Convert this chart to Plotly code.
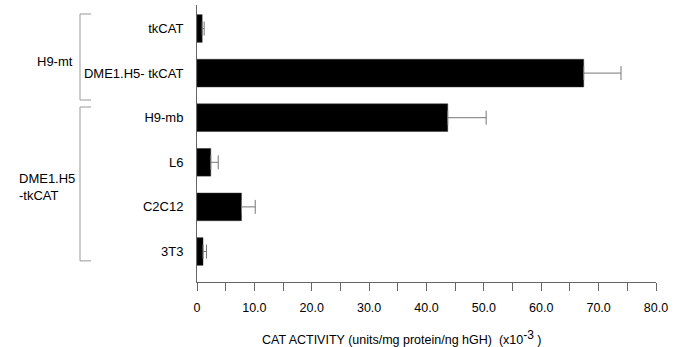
import plotly.graph_objects as go

categories = ["tkCAT", "DME1.H5- tkCAT", "H9-mb", "L6", "C2C12", "3T3"]
values = [0.9, 67.4, 43.7, 2.4, 7.75, 1.05]
errors = [0.35, 6.5, 6.7, 1.3, 2.4, 0.6]
x_tickvals = [0, 10, 20, 30, 40, 50, 60, 70, 80]
x_ticktext = ["0", "10.0", "20.0", "30.0", "40.0", "50.0", "60.0", "70.0", "80.0"]

W, H = 684, 347
L, R, T, B = 197, 28, 5, 65
pw = W - L - R

def px(x):
    return (x - L) / pw

fig = go.Figure()
fig.add_trace(go.Bar(
    y=categories, x=values, orientation="h", width=0.62,
    marker=dict(color="black", line=dict(color="#333", width=0.5)),
    error_x=dict(type="data", array=errors, arrayminus=[0] * len(errors),
                 symmetric=False, color="#777", thickness=1, width=7),
    showlegend=False,
))

font = "Liberation Sans, Arial, sans-serif"

fig.update_layout(
    width=W, height=H,
    margin=dict(l=L, r=R, t=T, b=B),
    plot_bgcolor="white", paper_bgcolor="white",
    font=dict(family=font, size=13, color="black"),
    xaxis=dict(
        range=[0, 80], tickvals=x_tickvals, ticktext=x_ticktext,
        ticks="outside", ticklen=8, tickcolor="#666", tickwidth=1,
        minor=dict(dtick=5, ticks="outside", ticklen=8, tickcolor="#666", tickwidth=1),
        showline=True, linecolor="#666", linewidth=1,
        showgrid=False, zeroline=False,
        tickfont=dict(size=12.5), ticklabelstandoff=6,
    ),
    yaxis=dict(
        type="category", categoryorder="array", categoryarray=categories,
        range=[5.684, -0.527],
        showline=True, linecolor="#666", linewidth=1,
        ticks="", showgrid=False, zeroline=False,
        tickfont=dict(size=13), ticklabelstandoff=10,
    ),
)

# axis title placed left of centre, as in the reference
fig.add_annotation(
    x=px(402), y=-0.2, xref="paper", yref="paper", yanchor="middle",
    xanchor="center", showarrow=False, font=dict(size=12.5),
    text="CAT ACTIVITY (units/mg protein/ng hGH)  (x10<sup><span style='font-size:12px'>-3</span></sup> )",
)

# group brackets
bracket_color = "#999"
for top, bot in [(-0.325, 1.603), (1.76, 5.21)]:
    fig.add_shape(type="line", xref="paper", yref="y", x0=px(80), x1=px(80),
                  y0=top, y1=bot, line=dict(color=bracket_color, width=1))
    for yy in (top, bot):
        fig.add_shape(type="line", xref="paper", yref="y", x0=px(80), x1=px(91),
                      y0=yy, y1=yy, line=dict(color=bracket_color, width=1))

fig.add_annotation(x=px(35), y=0.75, xref="paper", yref="y", xanchor="left",
                   showarrow=False, text="H9-mt", font=dict(size=13))
fig.add_annotation(x=px(17), y=3.55, xref="paper", yref="y", xanchor="left",
                   align="left", showarrow=False, text="DME1.H5<br>-tkCAT",
                   font=dict(size=13))

fig.write_html("out.html", config={"displayModeBar": False},
               post_script="document.body.style.margin='0px';")
